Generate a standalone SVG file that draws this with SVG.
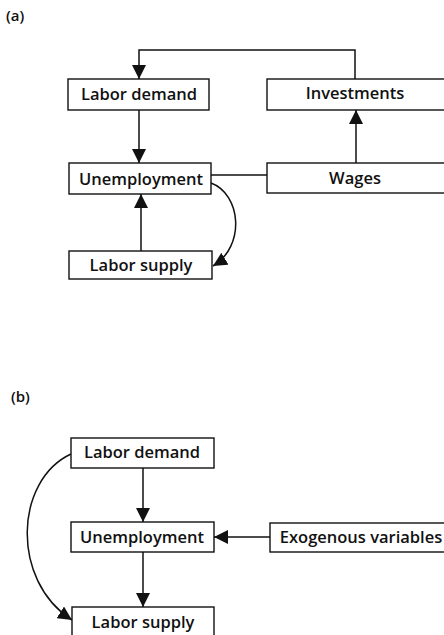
<svg xmlns="http://www.w3.org/2000/svg" width="444" height="635" viewBox="0 0 444 635">
  <style>
    .box { fill: #fff; stroke: #111; stroke-width: 1.4; }
    .lbl { font-family: "Open Sans", "Liberation Sans", Arial, sans-serif; font-size: 16.5px; font-weight: 600; fill: #111; text-anchor: middle; }
    .tag { font-family: "Open Sans", "Liberation Sans", Arial, sans-serif; font-size: 15px; font-weight: 600; fill: #111; }
    .wire { fill: none; stroke: #111; stroke-width: 1.5; }
  </style>
  <defs>
    <marker id="head" markerUnits="userSpaceOnUse" markerWidth="14" markerHeight="14" viewBox="0 0 14 14" refX="14" refY="7" orient="auto">
      <path d="M0,0 L14,7 L0,14 Z" fill="#111"/>
    </marker>
  </defs>
  <rect width="444" height="635" fill="#fff"/>

  <!-- panel labels -->
  <text class="tag" x="6" y="21">(a)</text>
  <text class="tag" x="11" y="402">(b)</text>

  <!-- connectors -->
  <g id="connectors">
    <!-- panel (a) -->
    <path class="wire" d="M355,79 V50 H139 V79" marker-end="url(#head)"/>
    <path class="wire" d="M139,110 V163" marker-end="url(#head)"/>
    <path class="wire" d="M141,251 V194" marker-end="url(#head)"/>
    <path class="wire" d="M211,183 C241,194 246,246 213,266" marker-end="url(#head)"/>
    <path class="wire" d="M211,175 H267"/>
    <path class="wire" d="M356,163 V110" marker-end="url(#head)"/>
    <!-- panel (b) -->
    <path class="wire" d="M143,468 V522" marker-end="url(#head)"/>
    <path class="wire" d="M270,537 H214" marker-end="url(#head)"/>
    <path class="wire" d="M143,552 V607" marker-end="url(#head)"/>
    <path class="wire" d="M71,454 C15,480 10,580 72,620" marker-end="url(#head)"/>
  </g>

  <!-- panel (a) nodes -->
  <g id="a-labor-demand">
    <rect class="box" x="68" y="79" width="141" height="31"/>
    <text class="lbl" x="139" y="100">Labor demand</text>
  </g>
  <g id="a-investments">
    <rect class="box" x="267" y="79" width="180" height="31"/>
    <text class="lbl" x="355" y="99">Investments</text>
  </g>
  <g id="a-unemployment">
    <rect class="box" x="69" y="163" width="142" height="31"/>
    <text class="lbl" x="141" y="185">Unemployment</text>
  </g>
  <g id="a-wages">
    <rect class="box" x="267" y="163" width="180" height="30"/>
    <text class="lbl" x="355" y="184">Wages</text>
  </g>
  <g id="a-labor-supply">
    <rect class="box" x="69" y="251" width="143" height="28"/>
    <text class="lbl" x="141" y="271">Labor supply</text>
  </g>

  <!-- panel (b) nodes -->
  <g id="b-labor-demand">
    <rect class="box" x="71" y="438" width="143" height="30"/>
    <text class="lbl" x="142" y="458">Labor demand</text>
  </g>
  <g id="b-unemployment">
    <rect class="box" x="71" y="522" width="143" height="30"/>
    <text class="lbl" x="142" y="543">Unemployment</text>
  </g>
  <g id="b-exogenous">
    <rect class="box" x="270" y="523" width="180" height="29"/>
    <text class="lbl" x="361" y="543">Exogenous variables</text>
  </g>
  <g id="b-labor-supply">
    <rect class="box" x="72" y="607" width="142" height="40"/>
    <text class="lbl" x="143" y="628">Labor supply</text>
  </g>
</svg>
